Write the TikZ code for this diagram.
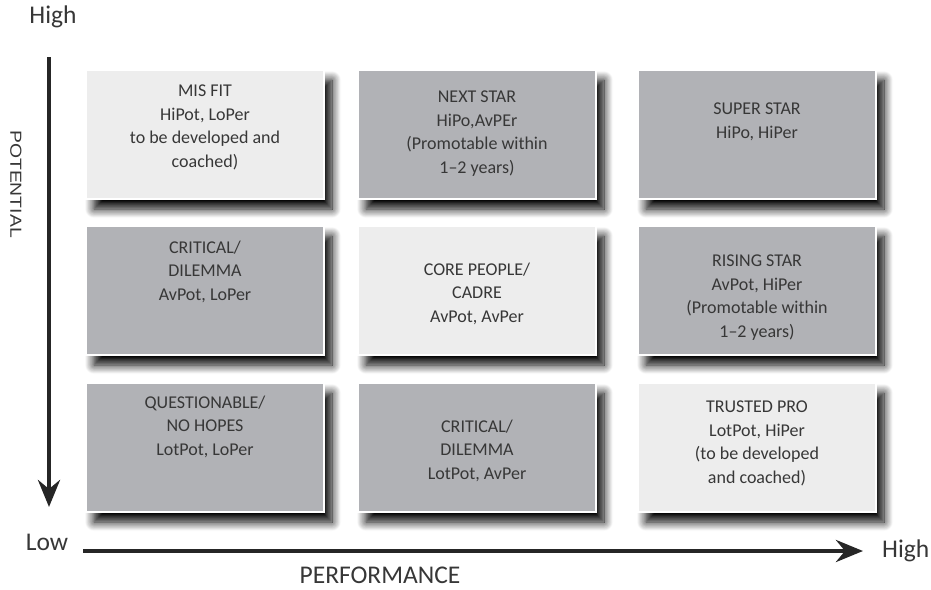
\documentclass[tikz,border=0pt]{standalone}
\usepackage{fontspec}
\setmainfont{Carlito}
\newfontfamily\potfont{Liberation Sans}
\usepackage{tikz}
\usetikzlibrary{positioning,arrows.meta,shadows.blur}

\definecolor{cellgray}{RGB}{177,178,182}
\definecolor{celllight}{RGB}{237,237,237}
\definecolor{inkgray}{RGB}{55,55,55}

\begin{document}
\begin{tikzpicture}[x=1pt, y=-1pt,
    cell/.style={draw=white, line width=1.5pt, minimum width=238pt, minimum height=129pt, inner sep=0pt,
        blur shadow={shadow xshift=8pt, shadow yshift=-10pt, shadow blur radius=9pt, shadow opacity=100,
        shadow blur steps=12}},
    hot/.style={cell, fill=cellgray},
    cool/.style={cell, fill=celllight},
    txt/.style={align=center, inner sep=0pt, text=inkgray, font=\fontsize{18}{23.5}\selectfont},
    axis/.style={line width=4.5pt, draw=black!85, -{Stealth[length=27pt, width=22pt, inset=9pt]}},
    axlbl/.style={inner sep=0pt, text=inkgray, font=\fontsize{25.5}{30}\selectfont}]
            \useasboundingbox (0,0) rectangle (931,589);
            \node[cool] (m11) at (205,134.5) {};
            \node[hot]  (m12) at (477,134.5) {};
            \node[hot]  (m13) at (757,134.5) {};
            \node[hot]  (m21) at (205,290.5) {};
            \node[cool] (m22) at (477,290.5) {};
            \node[hot]  (m23) at (757,290.5) {};
            \node[hot]  (m31) at (205,447.5) {};
            \node[hot]  (m32) at (477,447.5) {};
            \node[cool] (m33) at (757,447.5) {};
            \node[txt, below=15.5pt of m11.north] (t11) {MIS FIT\\HiPot, LoPer\\to be developed and\\coached)};
            \node[txt, below=21.5pt of m12.north] (t12) {NEXT STAR\\HiPo,AvPEr\\(Promotable within\\1\textendash2 years)};
            \node[txt, below=33.5pt of m13.north] (t13) {SUPER STAR\\HiPo, HiPer};
            \node[txt, below=15.5pt of m21.north] (t21) {CRITICAL/\\DILEMMA\\AvPot, LoPer};
            \node[txt, below=37.5pt of m22.north] (t22) {CORE PEOPLE/\\CADRE\\AvPot, AvPer};
            \node[txt, below=29.5pt of m23.north] (t23) {RISING STAR\\AvPot, HiPer\\(Promotable within\\1\textendash2 years)};
            \node[txt, below=13.5pt of m31.north] (t31) {QUESTIONABLE/\\NO HOPES\\LotPot, LoPer};
            \node[txt, below=37.5pt of m32.north] (t32) {CRITICAL/\\DILEMMA\\LotPot, AvPer};
            \node[txt, below=18.5pt of m33.north] (t33) {TRUSTED PRO\\LotPot, HiPer\\(to be developed\\and coached)};
            \coordinate (ptop) at (49,57);
            \coordinate (pbot) at (49,507);
            \coordinate (xleft) at (83,551);
            \coordinate (xright) at (863,551);
            \draw[axis] (ptop) -- (pbot);
            \draw[axis] (xleft) -- (xright);
            \node[axlbl] (phigh) at (53,17) {High};
            \node[axlbl] (low) at (47,542) {Low};
            \node[axlbl, right=19pt of xright] (xhigh) {High};
            \node[axlbl] (perf) at (380,575) {PERFORMANCE};
            \node[inner sep=0pt, text=inkgray, rotate=-90] (pot) at (16,184)
                {\scalebox{1.21}[1]{\potfont\fontsize{16}{16}\selectfont POTENTIAL}};
        \end{tikzpicture}
\end{document}
